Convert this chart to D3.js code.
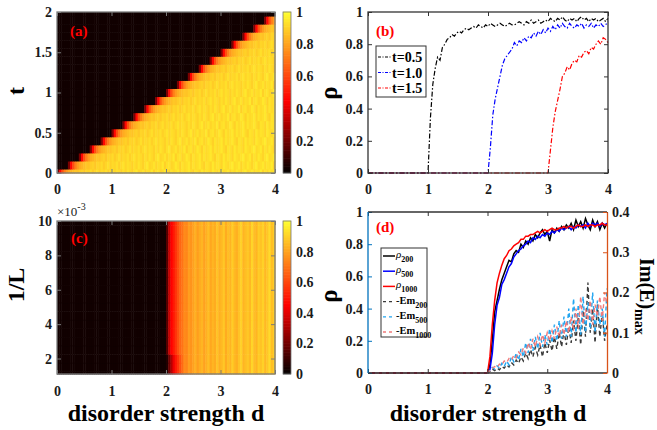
<!DOCTYPE html>
<html>
<head>
<meta charset="UTF-8">
<script src="https://d3js.org/d3.v7.min.js"></script>
<style>
body { margin: 0; background: #fff; }
svg text { font-family: "Liberation Serif", "Times New Roman", serif; }
.tick text { font-size: 14px; font-weight: bold; fill: #1a1a1a; }
</style>
</head>
<body>
<svg id="fig" width="657" height="430"></svg>
<script>
// ---- data ----
var dTicks = [0, 1, 2, 3, 4];
var tTicks = [0, 0.5, 1, 1.5, 2];
var rhoTicks = [0, 0.2, 0.4, 0.6, 0.8, 1];
var invLTicks = [2, 4, 6, 8, 10];
var emTicks = [0, 0.1, 0.2, 0.3, 0.4];

// (a) heat map: rows of t, onset in d of each row (staircase), profile above onset
var colStep = 0.04, nCols = 100;
var tRows = [0, 0.1, 0.2, 0.3, 0.4, 0.5, 0.6, 0.7, 0.8, 0.9, 1.0, 1.1, 1.2, 1.3, 1.4, 1.5, 1.6, 1.7, 1.8, 1.9, 2.0];
var onsetA = [0, 0.2, 0.4, 0.6, 0.8, 1.0, 1.2, 1.4, 1.6, 1.8, 2.0, 2.2, 2.4, 2.6, 2.8, 3.0, 3.2, 3.4, 3.6, 3.8, 4.0];
var darkVal = 0.03;
var profileA = [0.22,0.46,0.62,0.72,0.78,0.82,0.84,0.86,0.88,0.87,
  0.89,0.90,0.88,0.91,0.90,0.92,0.89,0.91,0.93,0.90,
  0.92,0.91,0.93,0.90,0.92,0.94,0.91,0.93,0.92,0.90,
  0.93,0.91,0.94,0.92,0.90,0.93,0.95,0.91,0.92,0.94,
  0.91,0.93,0.92,0.95,0.90,0.93,0.94,0.91,0.92,0.95,
  0.93,0.90,0.94,0.92,0.93,0.95,0.91,0.94,0.92,0.93,
  0.95,0.92,0.90,0.94,0.93,0.91,0.95,0.92,0.94,0.93,
  0.91,0.95,0.93,0.92,0.94,0.96,0.92,0.93,0.95,0.91,
  0.94,0.92,0.95,0.93,0.91,0.94,0.96,0.92,0.93,0.95,
  0.92,0.94,0.93,0.96,0.91,0.94,0.92,0.95,0.93,0.94,0.95];

// (b) rho(d) for three t, sampled every 0.04 from the onset
var bStep = 0.04;
var bSeries = [
  { name: 't=0.5', color: '#000000', start: 1.0, vals: [0,0.34,0.55,0.65,0.72,0.70,0.78,0.80,0.83,0.84,0.86,0.85,0.87,0.88,0.87,0.89,0.90,0.89,0.90,0.91,0.90,0.92,0.91,0.90,0.92,0.91,0.93,0.92,0.91,0.92,0.93,0.92,0.91,0.92,0.93,0.92,0.92,0.93,0.94,0.93,0.92,0.94,0.93,0.95,0.93,0.94,0.95,0.93,0.94,0.95,0.94,0.96,0.95,0.94,0.96,0.95,0.97,0.95,0.94,0.96,0.95,0.96,0.94,0.96,0.97,0.95,0.96,0.94,0.96,0.95,0.96,0.94,0.95,0.96,0.94,0.96] },
  { name: 't=1.0', color: '#0000ff', start: 2.0, vals: [0,0.16,0.36,0.46,0.53,0.60,0.67,0.71,0.73,0.75,0.77,0.81,0.79,0.82,0.81,0.84,0.82,0.85,0.84,0.87,0.85,0.88,0.86,0.89,0.87,0.90,0.88,0.91,0.89,0.92,0.90,0.93,0.91,0.90,0.93,0.91,0.90,0.92,0.91,0.93,0.90,0.92,0.91,0.93,0.90,0.92,0.91,0.93,0.91,0.92,0.94] },
  { name: 't=1.5', color: '#ff0000', start: 3.0, vals: [0,0.14,0.28,0.38,0.45,0.52,0.60,0.62,0.66,0.64,0.68,0.70,0.69,0.73,0.72,0.75,0.76,0.74,0.78,0.77,0.80,0.82,0.80,0.84,0.83,0.81] }
];

// (c) heat map: rows of 1/L (x10^-3), columns of d
var invLRows = [1,1.5,2,2.5,3,3.5,4,4.5,5,5.5,6,6.5,7,7.5,8,8.5,9,9.5,10];
var onsetC = 2.0;
var colC = [0.15,0.35,0.45,0.50,0.56,0.62,0.67,0.70,0.75,0.74,
  0.79,0.77,0.80,0.83,0.79,0.82,0.84,0.80,0.83,0.86,
  0.81,0.84,0.82,0.87,0.83,0.85,0.88,0.82,0.86,0.84,
  0.89,0.85,0.83,0.87,0.90,0.84,0.86,0.88,0.85,0.91,
  0.86,0.84,0.89,0.87,0.90,0.85,0.88,0.92,0.86,0.89];
var lowLRowMax = 2;   // rows with 1/L <= this turn on more slowly
var colCLow = [0.06,0.20,0.32,0.42,0.50,0.56,0.62,0.68];

// (d) rho and Im(E)max for three sizes, every 0.04 from d = 2
var dStep = 0.04, dStart = 2.0;
var rhoSeries = [
  { name: '200', color: '#000000', vals: [0,0.05,0.20,0.38,0.45,0.52,0.58,0.62,0.66,0.70,0.69,0.74,0.76,0.75,0.80,0.78,0.82,0.80,0.84,0.82,0.86,0.84,0.87,0.89,0.86,0.88,0.82,0.89,0.87,0.90,0.88,0.91,0.89,0.92,0.90,0.93,0.89,0.95,0.91,0.94,0.90,0.96,0.92,0.89,0.95,0.91,0.94,0.89,0.93,0.90,0.93] },
  { name: '500', color: '#0000ff', vals: [0,0.02,0.12,0.30,0.42,0.47,0.55,0.58,0.62,0.66,0.68,0.72,0.74,0.76,0.77,0.79,0.80,0.82,0.81,0.84,0.83,0.85,0.84,0.86,0.85,0.87,0.86,0.88,0.87,0.89,0.88,0.90,0.89,0.90,0.91,0.89,0.91,0.90,0.92,0.91,0.92,0.90,0.93,0.91,0.93,0.92,0.93,0.91,0.93,0.92,0.93] },
  { name: '1000', color: '#ff0000', vals: [0,0.10,0.30,0.45,0.56,0.62,0.67,0.71,0.73,0.76,0.77,0.79,0.80,0.81,0.83,0.83,0.85,0.85,0.86,0.86,0.87,0.88,0.87,0.88,0.89,0.88,0.89,0.90,0.89,0.89,0.90,0.90,0.91,0.90,0.91,0.91,0.90,0.91,0.92,0.91,0.91,0.92,0.91,0.92,0.92,0.91,0.92,0.92,0.93,0.92,0.92] }
];
var emSeries = [
  { name: '200', color: '#3a3a3a', vals: [0,0.004,0.010,0.006,0.012,0.008,0.016,0.012,0.020,0.015,0.026,0.020,0.032,0.024,0.040,0.030,0.050,0.036,0.058,0.040,0.064,0.045,0.070,0.040,0.075,0.050,0.082,0.055,0.090,0.060,0.100,0.065,0.105,0.070,0.115,0.075,0.130,0.080,0.140,0.070,0.155,0.090,0.225,0.100,0.160,0.075,0.170,0.090,0.150,0.080,0.120] },
  { name: '500', color: '#22a5f0', vals: [0,0.008,0.014,0.010,0.018,0.012,0.024,0.016,0.030,0.020,0.040,0.028,0.050,0.032,0.060,0.040,0.075,0.050,0.085,0.055,0.090,0.060,0.100,0.065,0.095,0.070,0.110,0.075,0.120,0.080,0.130,0.085,0.140,0.090,0.160,0.090,0.185,0.100,0.170,0.095,0.190,0.100,0.175,0.110,0.200,0.100,0.180,0.120,0.160,0.090,0.210] },
  { name: '1000', color: '#f07a7a', vals: [0,0.006,0.012,0.016,0.014,0.022,0.020,0.030,0.026,0.036,0.032,0.044,0.038,0.052,0.045,0.062,0.050,0.075,0.058,0.085,0.065,0.090,0.070,0.095,0.075,0.100,0.080,0.105,0.085,0.115,0.090,0.120,0.095,0.130,0.100,0.140,0.105,0.160,0.110,0.190,0.120,0.160,0.130,0.180,0.120,0.170,0.140,0.190,0.130,0.200,0.170] }
];

// ---- drawing ----
var svg = d3.select('#fig');
var heat = d3.scaleLinear().domain([0, 0.45, 1]).range(['#000000', '#ff0000', '#ffff30']).clamp(true);
var fmt = d3.format('~g');

function toPts(start, step, vals) {
  var pts = [[0, 0]];
  vals.forEach(function(v, i) { pts.push([start + i * step, v]); });
  return pts;
}

// ticks on all four sides, labels on left and bottom
function axes(x, y, xt, yt, padB, col) {
  var y0 = y.range()[0], y1 = y.range()[1], x0 = x.range()[0], x1 = x.range()[1];
  var g = svg.append('g');
  g.append('g').attr('transform', 'translate(0,' + y0 + ')')
    .call(d3.axisBottom(x).tickValues(xt).tickFormat(fmt).tickSizeInner(-4).tickSizeOuter(0).tickPadding(padB));
  g.append('g').attr('transform', 'translate(0,' + y1 + ')')
    .call(d3.axisTop(x).tickValues(xt).tickFormat('').tickSizeInner(-4).tickSizeOuter(0));
  g.append('g').attr('class', 'leftax').attr('transform', 'translate(' + x0 + ',0)')
    .call(d3.axisLeft(y).tickValues(yt).tickFormat(fmt).tickSizeInner(-4).tickSizeOuter(0).tickPadding(5));
  g.append('g').attr('class', 'rightax').attr('transform', 'translate(' + x1 + ',0)')
    .call(d3.axisRight(y).tickValues(yt).tickFormat('').tickSizeInner(-4).tickSizeOuter(0));
  g.selectAll('.domain').remove();
  g.selectAll('.tick line').attr('stroke', col).attr('stroke-width', 1);
  g.append('rect').attr('x', x0).attr('y', y1).attr('width', x1 - x0).attr('height', y0 - y1)
    .attr('fill', 'none').attr('stroke', col).attr('stroke-width', 1.3);
  return g;
}

function colorbar(y0, y1) {
  var cy = d3.scaleLinear().domain([0, 1]).range([y0, y1]);
  var steps = d3.range(0, 1, 0.01);
  svg.append('g').selectAll('rect').data(steps).enter().append('rect')
    .attr('x', 283).attr('width', 8)
    .attr('y', function(v) { return cy(v + 0.01) - 0.3; })
    .attr('height', function(v) { return cy(v) - cy(v + 0.01) + 0.6; })
    .attr('fill', function(v) { return heat(v + 0.005); });
  svg.append('rect').attr('x', 283).attr('y', y1).attr('width', 8).attr('height', y0 - y1)
    .attr('fill', 'none').attr('stroke', '#777').attr('stroke-width', 0.8);
  svg.append('g').attr('transform', 'translate(291,0)')
    .call(d3.axisRight(cy).tickValues(rhoTicks).tickFormat(fmt).tickSize(0).tickPadding(5))
    .select('.domain').remove();
}

function panelLabel(txt, x, y) {
  svg.append('text').attr('x', x).attr('y', y).text(txt)
    .attr('font-size', 15).attr('font-weight', 'bold').attr('fill', '#ff0000');
}

function ylab(txt, x, y, size) {
  svg.append('text').attr('transform', 'translate(' + x + ',' + y + ') rotate(-90)')
    .attr('text-anchor', 'middle').attr('font-size', size).attr('font-weight', 'bold').text(txt);
}

// ---- (a) ----
var xa = d3.scaleLinear().domain([0, 4]).range([57, 275]);
var ya = d3.scaleLinear().domain([0, 2]).range([173, 12]);
var cellsA = [];
tRows.forEach(function(t, r) {
  var k0 = Math.round(onsetA[r] / colStep);
  for (var j = 0; j < nCols; j++) {
    var k = j - k0;
    cellsA.push({ d: j * colStep, t: t, v: k < 0 ? darkVal : profileA[k] });
  }
});
svg.append('g').selectAll('rect').data(cellsA).enter().append('rect')
  .attr('x', function(c) { return xa(c.d); })
  .attr('width', xa(colStep) - xa(0) + 0.5)
  .attr('y', function(c) { return ya(Math.min(2, c.t + 0.05)); })
  .attr('height', function(c) { return ya(Math.max(0, c.t - 0.05)) - ya(Math.min(2, c.t + 0.05)) + 0.5; })
  .attr('fill', function(c) { return heat(c.v); });
axes(xa, ya, dTicks, tTicks, 11, '#7a7a7a');
colorbar(173, 12);
panelLabel('(a)', 70, 36);
ylab('t', 24, 91, 24);

// ---- (b) ----
var xb = d3.scaleLinear().domain([0, 4]).range([368, 608]);
var yb = d3.scaleLinear().domain([0, 1]).range([173, 12]);
var lineB = d3.line().x(function(p) { return xb(p[0]); }).y(function(p) { return yb(p[1]); });
bSeries.forEach(function(s) {
  svg.append('path').attr('d', lineB(toPts(s.start, bStep, s.vals)))
    .attr('fill', 'none').attr('stroke', s.color).attr('stroke-width', 1.2)
    .attr('stroke-dasharray', '5,2,1.5,2');
});
axes(xb, yb, dTicks, rhoTicks, 11, '#333');
panelLabel('(b)', 376, 36);
ylab('ρ', 337, 93, 25);
var legB = svg.append('g');
legB.append('rect').attr('x', 376).attr('y', 46).attr('width', 50).attr('height', 51)
  .attr('fill', '#fff').attr('stroke', '#333').attr('stroke-width', 1);
bSeries.forEach(function(s, i) {
  var yy = 57 + i * 15.5;
  legB.append('line').attr('x1', 378).attr('x2', 392).attr('y1', yy).attr('y2', yy)
    .attr('stroke', s.color).attr('stroke-width', 1.1).attr('stroke-dasharray', '3,1.5,1,1.5');
  legB.append('text').attr('x', 392).attr('y', yy + 5).text(s.name)
    .attr('font-size', 14).attr('font-weight', 'bold');
});

// ---- (c) ----
var xc = d3.scaleLinear().domain([0, 4]).range([57, 275]);
var yc = d3.scaleLinear().domain([1.1, 10]).range([374, 221]);
var cellsC = [];
var j0 = Math.round(onsetC / colStep);
invLRows.forEach(function(u) {
  for (var j = 0; j < nCols; j++) {
    var k = j - j0, v;
    if (k < 0) v = darkVal;
    else if (u <= lowLRowMax && k < colCLow.length) v = colCLow[k];
    else v = colC[k];
    cellsC.push({ d: j * colStep, u: u, v: v });
  }
});
svg.append('g').selectAll('rect').data(cellsC).enter().append('rect')
  .attr('x', function(c) { return xc(c.d); })
  .attr('width', xc(colStep) - xc(0) + 0.5)
  .attr('y', function(c) { return yc(Math.min(10, c.u + 0.25)); })
  .attr('height', function(c) { return yc(Math.max(1.1, c.u - 0.25)) - yc(Math.min(10, c.u + 0.25)) + 0.5; })
  .attr('fill', function(c) { return heat(c.v); });
axes(xc, yc, dTicks, invLTicks, 12, '#7a7a7a');
colorbar(374, 221);
panelLabel('(c)', 71, 243);
ylab('1/L', 24, 285, 24);
var ex = svg.append('text').attr('x', 57).attr('y', 216).attr('font-size', 13).attr('fill', '#222');
ex.append('tspan').text('×10');
ex.append('tspan').attr('dy', -6).attr('font-size', 10).text('-3');
svg.append('text').attr('x', 166).attr('y', 421).attr('text-anchor', 'middle')
  .attr('font-size', 24).attr('font-weight', 'bold').text('disorder strength d');

// ---- (d) ----
var xd = d3.scaleLinear().domain([0, 4]).range([368, 607]);
var yd = d3.scaleLinear().domain([0, 1]).range([373, 212]);
var yr = d3.scaleLinear().domain([0, 0.4]).range([373, 212]);
var blue = '#0072BD', orange = '#D95319';
var lineD = d3.line().x(function(p) { return xd(p[0]); }).y(function(p) { return yd(p[1]); });
var lineR = d3.line().x(function(p) { return xd(p[0]); }).y(function(p) { return yr(p[1]); });
rhoSeries.forEach(function(s) {
  svg.append('path').attr('d', lineD(toPts(dStart, dStep, s.vals)))
    .attr('fill', 'none').attr('stroke', s.color).attr('stroke-width', 1.5);
});
emSeries.forEach(function(s) {
  svg.append('path').attr('d', lineR(toPts(dStart, dStep, s.vals)))
    .attr('fill', 'none').attr('stroke', s.color).attr('stroke-width', 1.4)
    .attr('stroke-dasharray', '4,3');
});
var gd = axes(xd, yd, dTicks, rhoTicks, 11, '#333');
gd.select('.leftax').selectAll('.tick text').attr('fill', blue);
gd.select('.leftax').selectAll('.tick line').attr('stroke', blue);
gd.select('rect').remove();
gd.select('.rightax').remove();
svg.append('line').attr('x1', 368).attr('x2', 607).attr('y1', 212).attr('y2', 212).attr('stroke', '#333').attr('stroke-width', 1.3);
svg.append('line').attr('x1', 368).attr('x2', 607).attr('y1', 373).attr('y2', 373).attr('stroke', '#333').attr('stroke-width', 1.3);
svg.append('line').attr('x1', 368).attr('x2', 368).attr('y1', 212).attr('y2', 373).attr('stroke', blue).attr('stroke-width', 1.3);
var gr = svg.append('g').attr('transform', 'translate(607,0)')
  .call(d3.axisRight(yr).tickValues(emTicks).tickFormat(fmt).tickSizeInner(-4).tickSizeOuter(0).tickPadding(5));
gr.select('.domain').attr('stroke', orange).attr('stroke-width', 1.3);
gr.selectAll('.tick line').attr('stroke', orange);
gr.selectAll('.tick text').attr('fill', orange);
panelLabel('(d)', 376, 232);
ylab('ρ', 337, 296, 25);
svg.append('text').attr('transform', 'translate(640,258) rotate(90)')
  .attr('font-size', 20).attr('font-weight', 'bold')
  .call(function(t) {
    t.append('tspan').text('Im(E)');
    t.append('tspan').attr('dy', 5).attr('font-size', 14).text('max');
  });
svg.append('text').attr('x', 488).attr('y', 421).attr('text-anchor', 'middle')
  .attr('font-size', 24).attr('font-weight', 'bold').text('disorder strength d');

// legend (d)
var legD = svg.append('g');
legD.append('rect').attr('x', 381).attr('y', 248).attr('width', 46).attr('height', 89)
  .attr('fill', '#fff').attr('stroke', '#333').attr('stroke-width', 1);
var legRows = rhoSeries.map(function(s) { return { s: s, rho: true }; })
  .concat(emSeries.map(function(s) { return { s: s, rho: false }; }));
legRows.forEach(function(r, i) {
  var yy = 256 + i * 15.2;
  legD.append('line').attr('x1', 383).attr('x2', 395).attr('y1', yy).attr('y2', yy)
    .attr('stroke', r.s.color).attr('stroke-width', r.rho ? 1.5 : 1.3)
    .attr('stroke-dasharray', r.rho ? null : '3,3');
  var t = legD.append('text').attr('x', 396).attr('y', yy + 2);
  if (r.rho) {
    t.append('tspan').text('ρ').attr('font-size', 11).attr('font-style', 'italic');
  } else {
    t.append('tspan').text('-Em').attr('font-size', 10.5).attr('font-weight', 'bold');
  }
  t.append('tspan').attr('dy', 4).attr('font-size', 8).attr('font-weight', 'bold').text(r.s.name);
});
</script>
</body>
</html>
